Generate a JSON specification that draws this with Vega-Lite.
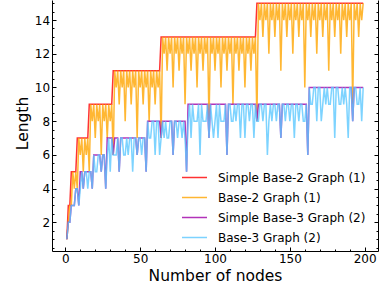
{
"$schema":"https://vega.github.io/schema/vega-lite/v6.json",
"width":326,"height":251,
"autosize":{"type":"none"},
"padding":{"left":52,"top":0,"right":1,"bottom":39},
"config":{"view":{"stroke":null},"font":"DejaVu Sans","axis":{"grid":false,"domainColor":"black","tickColor":"black","labelColor":"black","titleColor":"black","labelFontSize":12,"titleFontSize":15.5,"titleFontWeight":"normal","tickWidth":1,"domainWidth":1}},
"data":{"values":[
{"n":1,"a":1,"b":1,"c":1,"d":1},{"n":2,"a":3,"b":2,"c":2,"d":2},{"n":3,"a":3,"b":3,"c":2,"d":2},{"n":4,"a":5,"b":3,"c":3,"d":3},{"n":5,"a":5,"b":5,"c":3,"d":3},{"n":6,"a":5,"b":4,"c":3,"d":3},{"n":7,"a":5,"b":5,"c":4,"d":4},{"n":8,"a":7,"b":4,"c":4,"d":4},{"n":9,"a":7,"b":7,"c":3,"d":3},{"n":10,"a":7,"b":6,"c":5,"d":4},
{"n":11,"a":7,"b":7,"c":5,"d":5},{"n":12,"a":7,"b":5,"c":4,"d":4},{"n":13,"a":7,"b":7,"c":5,"d":5},{"n":14,"a":7,"b":6,"c":5,"d":5},{"n":15,"a":7,"b":7,"c":5,"d":4},{"n":16,"a":9,"b":5,"c":5,"d":5},{"n":17,"a":9,"b":9,"c":5,"d":5},{"n":18,"a":9,"b":8,"c":4,"d":4},{"n":19,"a":9,"b":9,"c":6,"d":6},{"n":20,"a":9,"b":7,"c":6,"d":5},
{"n":21,"a":9,"b":9,"c":6,"d":5},{"n":22,"a":9,"b":8,"c":6,"d":6},{"n":23,"a":9,"b":9,"c":6,"d":6},{"n":24,"a":9,"b":6,"c":5,"d":5},{"n":25,"a":9,"b":9,"c":6,"d":6},{"n":26,"a":9,"b":8,"c":6,"d":6},{"n":27,"a":9,"b":9,"c":4,"d":4},{"n":28,"a":9,"b":7,"c":7,"d":6},{"n":29,"a":9,"b":9,"c":7,"d":7},{"n":30,"a":9,"b":8,"c":7,"d":5},
{"n":31,"a":9,"b":9,"c":7,"d":7},{"n":32,"a":11,"b":6,"c":6,"d":6},{"n":33,"a":11,"b":11,"c":7,"d":6},{"n":34,"a":11,"b":10,"c":7,"d":6},{"n":35,"a":11,"b":11,"c":7,"d":7},{"n":36,"a":11,"b":9,"c":5,"d":5},{"n":37,"a":11,"b":11,"c":7,"d":7},{"n":38,"a":11,"b":10,"c":7,"d":7},{"n":39,"a":11,"b":11,"c":7,"d":6},{"n":40,"a":11,"b":8,"c":7,"d":6},
{"n":41,"a":11,"b":11,"c":7,"d":7},{"n":42,"a":11,"b":10,"c":7,"d":6},{"n":43,"a":11,"b":11,"c":7,"d":7},{"n":44,"a":11,"b":9,"c":7,"d":7},{"n":45,"a":11,"b":11,"c":7,"d":5},{"n":46,"a":11,"b":10,"c":7,"d":7},{"n":47,"a":11,"b":11,"c":7,"d":7},{"n":48,"a":11,"b":7,"c":6,"d":6},{"n":49,"a":11,"b":11,"c":7,"d":7},{"n":50,"a":11,"b":10,"c":7,"d":7},
{"n":51,"a":11,"b":11,"c":7,"d":6},{"n":52,"a":11,"b":9,"c":7,"d":7},{"n":53,"a":11,"b":11,"c":7,"d":7},{"n":54,"a":11,"b":10,"c":5,"d":5},{"n":55,"a":11,"b":11,"c":8,"d":8},{"n":56,"a":11,"b":8,"c":8,"d":7},{"n":57,"a":11,"b":11,"c":8,"d":7},{"n":58,"a":11,"b":10,"c":8,"d":8},{"n":59,"a":11,"b":11,"c":8,"d":8},{"n":60,"a":11,"b":9,"c":8,"d":6},
{"n":61,"a":11,"b":11,"c":8,"d":8},{"n":62,"a":11,"b":10,"c":8,"d":8},{"n":63,"a":11,"b":11,"c":8,"d":6},{"n":64,"a":13,"b":7,"c":7,"d":7},{"n":65,"a":13,"b":13,"c":8,"d":8},{"n":66,"a":13,"b":12,"c":8,"d":7},{"n":67,"a":13,"b":13,"c":8,"d":8},{"n":68,"a":13,"b":11,"c":8,"d":7},{"n":69,"a":13,"b":13,"c":8,"d":7},{"n":70,"a":13,"b":12,"c":8,"d":8},
{"n":71,"a":13,"b":13,"c":8,"d":8},{"n":72,"a":13,"b":10,"c":6,"d":6},{"n":73,"a":13,"b":13,"c":8,"d":8},{"n":74,"a":13,"b":12,"c":8,"d":8},{"n":75,"a":13,"b":13,"c":8,"d":7},{"n":76,"a":13,"b":11,"c":8,"d":8},{"n":77,"a":13,"b":13,"c":8,"d":8},{"n":78,"a":13,"b":12,"c":8,"d":7},{"n":79,"a":13,"b":13,"c":8,"d":8},{"n":80,"a":13,"b":9,"c":8,"d":7},
{"n":81,"a":13,"b":13,"c":5,"d":5},{"n":82,"a":13,"b":12,"c":9,"d":8},{"n":83,"a":13,"b":13,"c":9,"d":9},{"n":84,"a":13,"b":11,"c":9,"d":7},{"n":85,"a":13,"b":13,"c":9,"d":9},{"n":86,"a":13,"b":12,"c":9,"d":8},{"n":87,"a":13,"b":13,"c":9,"d":8},{"n":88,"a":13,"b":10,"c":9,"d":8},{"n":89,"a":13,"b":13,"c":9,"d":9},{"n":90,"a":13,"b":12,"c":9,"d":6},
{"n":91,"a":13,"b":13,"c":9,"d":9},{"n":92,"a":13,"b":11,"c":9,"d":8},{"n":93,"a":13,"b":13,"c":9,"d":8},{"n":94,"a":13,"b":12,"c":9,"d":8},{"n":95,"a":13,"b":13,"c":9,"d":9},{"n":96,"a":13,"b":8,"c":7,"d":7},{"n":97,"a":13,"b":13,"c":9,"d":9},{"n":98,"a":13,"b":12,"c":9,"d":8},{"n":99,"a":13,"b":13,"c":9,"d":7},{"n":100,"a":13,"b":11,"c":9,"d":8},
{"n":101,"a":13,"b":13,"c":9,"d":9},{"n":102,"a":13,"b":12,"c":9,"d":7},{"n":103,"a":13,"b":13,"c":9,"d":9},{"n":104,"a":13,"b":10,"c":9,"d":8},{"n":105,"a":13,"b":13,"c":9,"d":8},{"n":106,"a":13,"b":12,"c":9,"d":8},{"n":107,"a":13,"b":13,"c":9,"d":9},{"n":108,"a":13,"b":11,"c":6,"d":6},{"n":109,"a":13,"b":13,"c":9,"d":9},{"n":110,"a":13,"b":12,"c":9,"d":9},
{"n":111,"a":13,"b":13,"c":9,"d":8},{"n":112,"a":13,"b":9,"c":9,"d":8},{"n":113,"a":13,"b":13,"c":9,"d":9},{"n":114,"a":13,"b":12,"c":9,"d":8},{"n":115,"a":13,"b":13,"c":9,"d":9},{"n":116,"a":13,"b":11,"c":9,"d":9},{"n":117,"a":13,"b":13,"c":9,"d":7},{"n":118,"a":13,"b":12,"c":9,"d":9},{"n":119,"a":13,"b":13,"c":9,"d":9},{"n":120,"a":13,"b":10,"c":9,"d":7},
{"n":121,"a":13,"b":13,"c":9,"d":9},{"n":122,"a":13,"b":12,"c":9,"d":9},{"n":123,"a":13,"b":13,"c":9,"d":8},{"n":124,"a":13,"b":11,"c":9,"d":9},{"n":125,"a":13,"b":13,"c":9,"d":9},{"n":126,"a":13,"b":12,"c":9,"d":7},{"n":127,"a":13,"b":13,"c":9,"d":9},{"n":128,"a":15,"b":8,"c":8,"d":8},{"n":129,"a":15,"b":15,"c":9,"d":8},{"n":130,"a":15,"b":14,"c":9,"d":9},
{"n":131,"a":15,"b":15,"c":9,"d":9},{"n":132,"a":15,"b":13,"c":9,"d":8},{"n":133,"a":15,"b":15,"c":9,"d":9},{"n":134,"a":15,"b":14,"c":9,"d":9},{"n":135,"a":15,"b":15,"c":9,"d":6},{"n":136,"a":15,"b":12,"c":9,"d":8},{"n":137,"a":15,"b":15,"c":9,"d":9},{"n":138,"a":15,"b":14,"c":9,"d":8},{"n":139,"a":15,"b":15,"c":9,"d":9},{"n":140,"a":15,"b":13,"c":9,"d":9},
{"n":141,"a":15,"b":15,"c":9,"d":8},{"n":142,"a":15,"b":14,"c":9,"d":9},{"n":143,"a":15,"b":15,"c":9,"d":9},{"n":144,"a":15,"b":11,"c":7,"d":7},{"n":145,"a":15,"b":15,"c":9,"d":9},{"n":146,"a":15,"b":14,"c":9,"d":9},{"n":147,"a":15,"b":15,"c":9,"d":8},{"n":148,"a":15,"b":13,"c":9,"d":9},{"n":149,"a":15,"b":15,"c":9,"d":9},{"n":150,"a":15,"b":14,"c":9,"d":8},
{"n":151,"a":15,"b":15,"c":9,"d":9},{"n":152,"a":15,"b":12,"c":9,"d":9},{"n":153,"a":15,"b":15,"c":9,"d":7},{"n":154,"a":15,"b":14,"c":9,"d":9},{"n":155,"a":15,"b":15,"c":9,"d":9},{"n":156,"a":15,"b":13,"c":9,"d":8},{"n":157,"a":15,"b":15,"c":9,"d":9},{"n":158,"a":15,"b":14,"c":9,"d":9},{"n":159,"a":15,"b":15,"c":9,"d":8},{"n":160,"a":15,"b":10,"c":9,"d":8},
{"n":161,"a":15,"b":15,"c":9,"d":9},{"n":162,"a":15,"b":14,"c":6,"d":6},{"n":163,"a":15,"b":15,"c":10,"d":10},{"n":164,"a":15,"b":13,"c":10,"d":9},{"n":165,"a":15,"b":15,"c":10,"d":9},{"n":166,"a":15,"b":14,"c":10,"d":10},{"n":167,"a":15,"b":15,"c":10,"d":10},{"n":168,"a":15,"b":12,"c":10,"d":8},{"n":169,"a":15,"b":15,"c":10,"d":10},{"n":170,"a":15,"b":14,"c":10,"d":10},
{"n":171,"a":15,"b":15,"c":10,"d":8},{"n":172,"a":15,"b":13,"c":10,"d":9},{"n":173,"a":15,"b":15,"c":10,"d":10},{"n":174,"a":15,"b":14,"c":10,"d":9},{"n":175,"a":15,"b":15,"c":10,"d":10},{"n":176,"a":15,"b":11,"c":10,"d":9},{"n":177,"a":15,"b":15,"c":10,"d":9},{"n":178,"a":15,"b":14,"c":10,"d":10},{"n":179,"a":15,"b":15,"c":10,"d":10},{"n":180,"a":15,"b":13,"c":10,"d":7},
{"n":181,"a":15,"b":15,"c":10,"d":10},{"n":182,"a":15,"b":14,"c":10,"d":10},{"n":183,"a":15,"b":15,"c":10,"d":9},{"n":184,"a":15,"b":12,"c":10,"d":9},{"n":185,"a":15,"b":15,"c":10,"d":10},{"n":186,"a":15,"b":14,"c":10,"d":9},{"n":187,"a":15,"b":15,"c":10,"d":10},{"n":188,"a":15,"b":13,"c":10,"d":9},{"n":189,"a":15,"b":15,"c":10,"d":7},{"n":190,"a":15,"b":14,"c":10,"d":10},
{"n":191,"a":15,"b":15,"c":10,"d":10},{"n":192,"a":15,"b":9,"c":8,"d":8},{"n":193,"a":15,"b":15,"c":10,"d":10},{"n":194,"a":15,"b":14,"c":10,"d":10},{"n":195,"a":15,"b":15,"c":10,"d":9},{"n":196,"a":15,"b":13,"c":10,"d":9},{"n":197,"a":15,"b":15,"c":10,"d":10},{"n":198,"a":15,"b":14,"c":10,"d":8},{"n":199,"a":15,"b":15,"c":10,"d":10}
]},
"transform":[{"fold":["a","b","c","d"],"as":["key","value"]}],
"layer":[
{"mark":{"type":"line","strokeWidth":1.5,"opacity":0.8},
 "encoding":{
  "x":{"field":"n","type":"quantitative","scale":{"domain":[-8.9,208.9],"nice":false,"zero":false},
       "axis":{"orient":"bottom","values":[0,50,100,150,200],"tickSize":-4,"labelPadding":6,"title":"Number of nodes","titleY":29,"titleBaseline":"alphabetic"}},
  "y":{"field":"value","type":"quantitative","scale":{"domain":[0.3,15.19],"nice":false,"zero":false},
       "axis":{"orient":"left","values":[2,4,6,8,10,12,14],"tickSize":-4,"labelPadding":6.4,"title":"Length","titleX":-25,"titleY":123,"titleAlign":"center","titleBaseline":"alphabetic"}},
  "color":{"field":"key","type":"nominal","scale":{"domain":["a","b","c","d"],"range":["#ff0000","#ffa500","#a000a8","#5cc8ff"]},
       "legend":{"orient":"none","legendX":129,"legendY":164,"title":null,"symbolType":"stroke","symbolSize":625,"symbolStrokeWidth":1.5,"labelFontSize":12,"labelOffset":10,"rowPadding":-6,"padding":0,
       "labelExpr":"datum.label=='a'?'Simple Base-2 Graph (1)':datum.label=='b'?'Base-2 Graph (1)':datum.label=='c'?'Simple Base-3 Graph (2)':'Base-3 Graph (2)'"}}
 }},
{"mark":{"type":"line","strokeOpacity":0},
 "encoding":{
  "x":{"field":"n","type":"quantitative","axis":{"orient":"bottom","values":[10,20,30,40,60,70,80,90,110,120,130,140,160,170,180,190],"tickSize":-2,"labels":false,"domain":false,"title":null}},
  "y":{"field":"value","type":"quantitative","axis":{"orient":"left","values":[0.5,1,1.5,2.5,3,3.5,4.5,5,5.5,6.5,7,7.5,8.5,9,9.5,10.5,11,11.5,12.5,13,13.5,14.5,15],"tickSize":-2,"labels":false,"domain":false,"title":null}}
 }},
{"mark":{"type":"line","strokeOpacity":0},
 "encoding":{
  "x":{"field":"n","type":"quantitative","axis":null},
  "y":{"field":"value","type":"quantitative","axis":{"orient":"right","values":[2,4,6,8,10,12,14],"tickSize":-4,"labels":false,"title":null}}
 }},
{"mark":{"type":"line","strokeOpacity":0},
 "encoding":{
  "x":{"field":"n","type":"quantitative","axis":null},
  "y":{"field":"value","type":"quantitative","axis":{"orient":"right","values":[0.5,1,1.5,2.5,3,3.5,4.5,5,5.5,6.5,7,7.5,8.5,9,9.5,10.5,11,11.5,12.5,13,13.5,14.5,15],"tickSize":-2,"labels":false,"domain":false,"title":null}}
 }}
],
"resolve":{"axis":{"x":"independent","y":"independent"}}
}
